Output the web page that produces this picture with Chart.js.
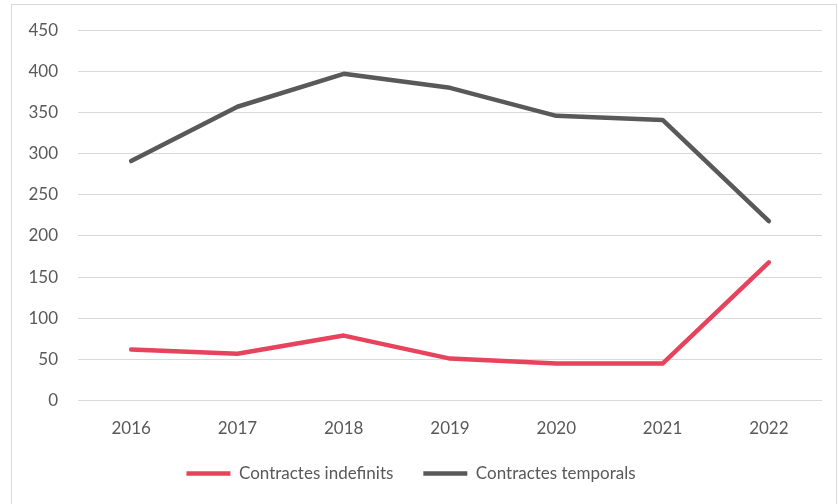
<!DOCTYPE html>
<html>
<head>
<meta charset="utf-8">
<script src="https://cdn.jsdelivr.net/npm/chart.js@4"></script>
<style>
  html, body { margin: 0; padding: 0; background: #fff; }
  #frame { position: absolute; left: 11px; top: 4px; width: 824px; height: 540px; border: 1px solid #d9d9d9; }
  #wrap { position: absolute; left: 0; top: 0; width: 838px; height: 504px; }
</style>
</head>
<body>
<div id="frame"></div>
<div id="wrap"><canvas id="chart"></canvas></div>
<script>
  const years = ["2016", "2017", "2018", "2019", "2020", "2021", "2022"];
  const indefinits = [62, 57, 79, 51, 45, 45, 168];
  const temporals = [291, 357, 397, 380, 346, 341, 218];

  const textColor = "#595959";
  const gridColor = "#d9d9d9";

  Chart.defaults.font.family = "Lato, 'Noto Sans', sans-serif";
  Chart.defaults.font.size = 17;
  Chart.defaults.color = textColor;

  // nudge the legend up a bit, it sits too low with the wide item padding
  const legendShift = {
    id: "legendShift",
    afterLayout(chart) {
      chart.legend.top -= 22;
      chart.legend.bottom -= 22;
    },
  };

  new Chart(document.getElementById("chart"), {
    type: "line",
    data: {
      labels: years,
      datasets: [
        {
          label: "Contractes indefinits",
          data: indefinits,
          borderColor: "#e8435c",
          backgroundColor: "#e8435c",
          borderWidth: 4.5,
          borderCapStyle: "round",
          borderJoinStyle: "round",
          pointRadius: 0,
          tension: 0,
        },
        {
          label: "Contractes temporals",
          data: temporals,
          borderColor: "#595959",
          backgroundColor: "#595959",
          borderWidth: 4.5,
          borderCapStyle: "round",
          borderJoinStyle: "round",
          pointRadius: 0,
          tension: 0,
        },
      ],
    },
    options: {
      responsive: true,
      maintainAspectRatio: false,
      animation: false,
      layout: { padding: { top: 30, right: 16, left: 0, bottom: -10 } },
      plugins: {
        tooltip: { enabled: false },
        legend: {
          position: "bottom",
          labels: {
            usePointStyle: true,
            pointStyle: "line",
            pointStyleWidth: 44,
            padding: 30,
            color: textColor,
          },
        },
      },
      scales: {
        x: {
          offset: true,
          grid: { display: false, drawTicks: false },
          border: { display: false },
          ticks: { padding: 18, color: textColor },
        },
        y: {
          min: 0,
          max: 450,
          ticks: { stepSize: 50, padding: 20, color: textColor },
          grid: { color: gridColor, lineWidth: 1, drawTicks: false },
          border: { display: false },
          afterFit: (scale) => { scale.width = 78; },
        },
      },
    },
    plugins: [legendShift],
  });
</script>
</body>
</html>
